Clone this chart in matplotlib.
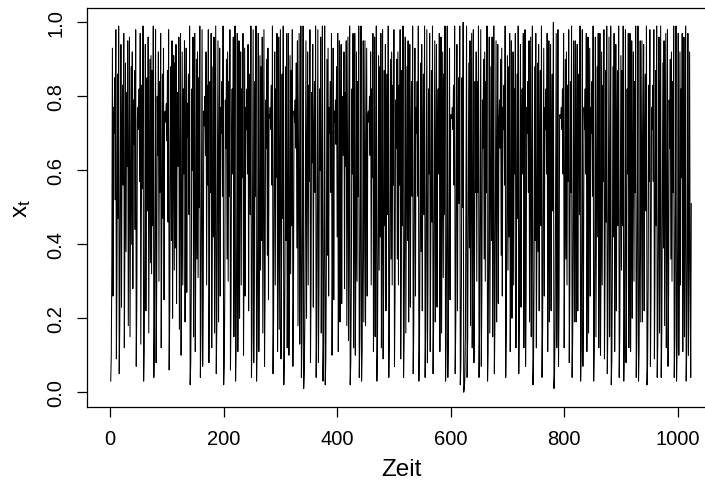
import numpy as np
import matplotlib
matplotlib.use("Agg")
import matplotlib.pyplot as plt

# Zeitreihe x_t (Werte 1..1024)
xt = [
    .03, .10, .36, .93, .26, .77, .70, .85, .52, .98, .09, .31, .86, .47, .99, .05,
    .19, .62, .94, .23, .71, .83, .56, .97, .12, .42, .89, .38, .81, .61, .95, .18,
    .58, .96, .15, .50, .88, .40, .92, .28, .79, .67, .87, .44, .98, .07, .25, .74,
    .77, .71, .82, .57, .97, .13, .46, .83, .55, .99, .03, .11, .39, .94, .22, .69,
    .85, .49, .96, .16, .53, .90, .35, .91, .32, .87, .45, .99, .04, .15, .51, .98,
    .08, .28, .80, .64, .92, .30, .84, .54, .97, .12, .43, .86, .47, .93, .25, .75,
    .76, .73, .78, .68, .87, .46, .98, .06, .22, .67, .88, .41, .95, .20, .63, .91,
    .33, .89, .39, .94, .24, .72, .81, .61, .96, .17, .56, .97, .10, .37, .92, .29,
    .82, .59, .95, .19, .61, .93, .27, .78, .69, .86, .48, .99, .02, .08, .29, .82,
    .60, .96, .15, .51, .97, .11, .40, .90, .36, .92, .31, .85, .50, .99, .04, .17,
    .57, .98, .07, .26, .76, .72, .80, .64, .92, .29, .83, .56, .98, .08, .30, .84,
    .54, .97, .12, .43, .88, .42, .96, .16, .54, .99, .05, .19, .60, .95, .19, .62,
    .93, .26, .77, .70, .84, .53, .99, .02, .07, .27, .79, .66, .90, .36, .92, .30,
    .84, .53, .98, .06, .23, .71, .82, .59, .96, .15, .52, .99, .03, .12, .42, .97,
    .11, .39, .95, .20, .64, .92, .29, .82, .58, .97, .10, .37, .93, .26, .77, .71,
    .82, .59, .94, .22, .69, .86, .48, .99, .04, .16, .54, .98, .08, .30, .84, .53,
    .99, .03, .13, .44, .97, .11, .38, .91, .33, .88, .41, .96, .16, .55, .98, .07,
    .27, .79, .66, .90, .37, .93, .25, .75, .74, .77, .71, .83, .56, .99, .05, .20,
    .64, .92, .29, .82, .58, .97, .11, .40, .96, .17, .57, .98, .09, .32, .86, .47,
    .99, .02, .09, .33, .88, .41, .97, .12, .42, .97, .10, .36, .91, .32, .87, .45,
    .98, .07, .25, .76, .73, .79, .66, .89, .39, .95, .18, .59, .97, .13, .45, .99,
    .04, .14, .49, .99, .01, .05, .19, .61, .95, .20, .64, .92, .29, .83, .57, .98,
    .08, .28, .81, .62, .94, .23, .70, .84, .54, .99, .04, .17, .56, .98, .08, .29,
    .82, .60, .96, .16, .53, .99, .03, .13, .46, .99, .02, .09, .34, .90, .37, .93,
    .26, .77, .70, .84, .54, .97, .10, .37, .93, .25, .76, .73, .79, .67, .88, .42,
    .97, .11, .39, .95, .19, .62, .94, .24, .72, .80, .64, .92, .28, .81, .61, .95,
    .18, .59, .96, .14, .48, .99, .02, .08, .29, .82, .59, .97, .12, .42, .97, .10,
    .36, .92, .30, .84, .53, .99, .04, .15, .52, .99, .03, .11, .39, .95, .19, .61,
    .95, .18, .59, .93, .26, .75, .76, .73, .80, .64, .92, .29, .82, .58, .97, .11,
    .40, .96, .15, .51, .99, .03, .12, .41, .91, .33, .88, .42, .97, .12, .43, .98,
    .09, .32, .87, .45, .94, .22, .68, .86, .48, .99, .04, .16, .54, .90, .36, .92,
    .29, .83, .56, .98, .07, .27, .79, .66, .90, .36, .92, .29, .83, .56, .98, .09,
    .32, .87, .45, .99, .04, .14, .48, .96, .16, .55, .88, .41, .95, .19, .62, .94,
    .23, .70, .84, .53, .99, .05, .18, .60, .93, .26, .77, .70, .84, .53, .99, .03,
    .12, .43, .89, .38, .94, .22, .69, .86, .48, .99, .04, .17, .57, .98, .08, .29,
    .82, .59, .97, .11, .40, .87, .46, .99, .05, .19, .61, .95, .19, .62, .94, .23,
    .71, .82, .59, .97, .11, .40, .96, .16, .53, .92, .31, .86, .48, .99, .03, .13,
    .45, .99, .04, .16, .54, .93, .25, .75, .75, .74, .77, .71, .83, .56, .99, .05,
    .19, .62, .94, .22, .69, .85, .51, .99, .02, .08, .31, .85, .50, 1.00, .00, .01,
    .04, .16, .54, .99, .04, .15, .51, .89, .39, .95, .18, .59, .97, .12, .43, .98,
    .08, .30, .84, .54, .92, .30, .84, .54, .99, .04, .17, .56, .98, .07, .27, .79,
    .66, .90, .36, .92, .30, .84, .54, .99, .03, .11, .40, .96, .16, .53, .88, .41,
    .96, .15, .51, .99, .05, .19, .61, .95, .19, .62, .94, .24, .73, .79, .66, .90,
    .37, .93, .26, .77, .71, .83, .56, .99, .04, .16, .54, .91, .33, .88, .42, .97,
    .11, .39, .95, .20, .64, .92, .29, .82, .59, .97, .12, .42, .86, .47, .99, .05,
    .19, .62, .94, .23, .71, .82, .59, .97, .12, .43, .98, .07, .26, .77, .70, .84,
    .54, .95, .19, .61, .96, .15, .51, .99, .02, .09, .33, .88, .41, .97, .12, .42,
    .89, .38, .94, .22, .68, .87, .45, .99, .04, .17, .57, .93, .26, .77, .71, .82,
    .59, .97, .11, .39, .95, .19, .62, .94, .22, .69, .86, .49, 1.00, .01, .05, .18,
    .59, .97, .12, .43, .98, .07, .25, .75, .75, .74, .77, .71, .82, .59, .97, .12,
    .42, .90, .36, .92, .29, .83, .57, .98, .08, .30, .84, .54, .99, .04, .15, .51,
    .95, .19, .61, .95, .19, .62, .94, .22, .69, .86, .48, .99, .03, .12, .43, .98,
    .07, .26, .77, .71, .82, .59, .97, .11, .40, .96, .16, .54, .93, .26, .77, .70,
    .84, .53, .99, .03, .11, .40, .96, .15, .52, .88, .42, .97, .12, .42, .97, .10,
    .36, .92, .29, .83, .57, .98, .09, .32, .87, .46, .99, .05, .18, .60, .96, .15,
    .51, .99, .02, .09, .33, .88, .42, .97, .11, .38, .94, .22, .68, .87, .45, .99,
    .04, .16, .53, .91, .33, .87, .45, .99, .03, .12, .43, .98, .08, .29, .82, .59,
    .97, .12, .42, .97, .11, .39, .95, .20, .64, .92, .30, .84, .54, .99, .04, .15,
    .51, .99, .03, .11, .39, .95, .19, .61, .95, .19, .62, .94, .22, .69, .86, .49,
    .99, .02, .08, .29, .83, .57, .98, .07, .26, .77, .71, .83, .57, .98, .09, .32,
    .87, .45, .99, .04, .14, .48, .96, .16, .54, .99, .04, .16, .53, .89, .39, .95,
    .18, .59, .97, .12, .43, .98, .07, .27, .79, .66, .90, .36, .92, .30, .84, .54,
    .99, .04, .15, .52, .99, .03, .12, .42, .97, .10, .36, .92, .29, .82, .58, .97,
    .11, .40, .96, .15, .51, .99, .03, .12, .42, .97, .10, .36, .92, .29, .04, .51,
]
zeit = np.arange(1, len(xt) + 1)

xticks = [0, 200, 400, 600, 800, 1000]
yticks = [0.0, 0.2, 0.4, 0.6, 0.8, 1.0]

plt.rcParams["font.family"] = ["Liberation Sans", "DejaVu Sans"]
plt.rcParams["mathtext.fontset"] = "custom"
plt.rcParams["mathtext.rm"] = "Liberation Sans"
plt.rcParams["mathtext.it"] = "Liberation Sans"

fig = plt.figure(figsize=(7.05, 4.89), dpi=100)
ax = fig.add_axes([0.1241, 0.1656, 0.8894, 0.817])

ax.plot(zeit, xt, color="black", linewidth=0.75)

# Achsenbereiche wie in R (4 % Rand)
n = len(xt)
dx = 0.04 * (n - 1)
ax.set_xlim(1 - dx, n + dx)
lo, hi = min(xt), max(xt)
dy = 0.04 * (hi - lo)
ax.set_ylim(lo - dy, hi + dy)

ax.set_xticks(xticks)
ax.set_xticklabels([str(v) for v in xticks])
ax.set_yticks(yticks)
ax.set_yticklabels([f"{v:.1f}" for v in yticks], rotation=90, va="center")
ax.tick_params(axis="both", direction="out", length=7, width=0.9,
               labelsize=14.5, pad=9, colors="black")

for s in ax.spines.values():
    s.set_linewidth(0.9)
    s.set_color("black")

ax.set_xlabel("Zeit", fontsize=17.5)
ax.xaxis.set_label_coords(0.5, -0.155)
ax.xaxis.label.set_va("center")
ax.set_ylabel(r"$\mathregular{x_t}$", fontsize=17.5)
ax.yaxis.set_label_coords(-0.105, 0.5)
ax.yaxis.label.set_va("center")

fig.savefig("out.png", dpi=100)
